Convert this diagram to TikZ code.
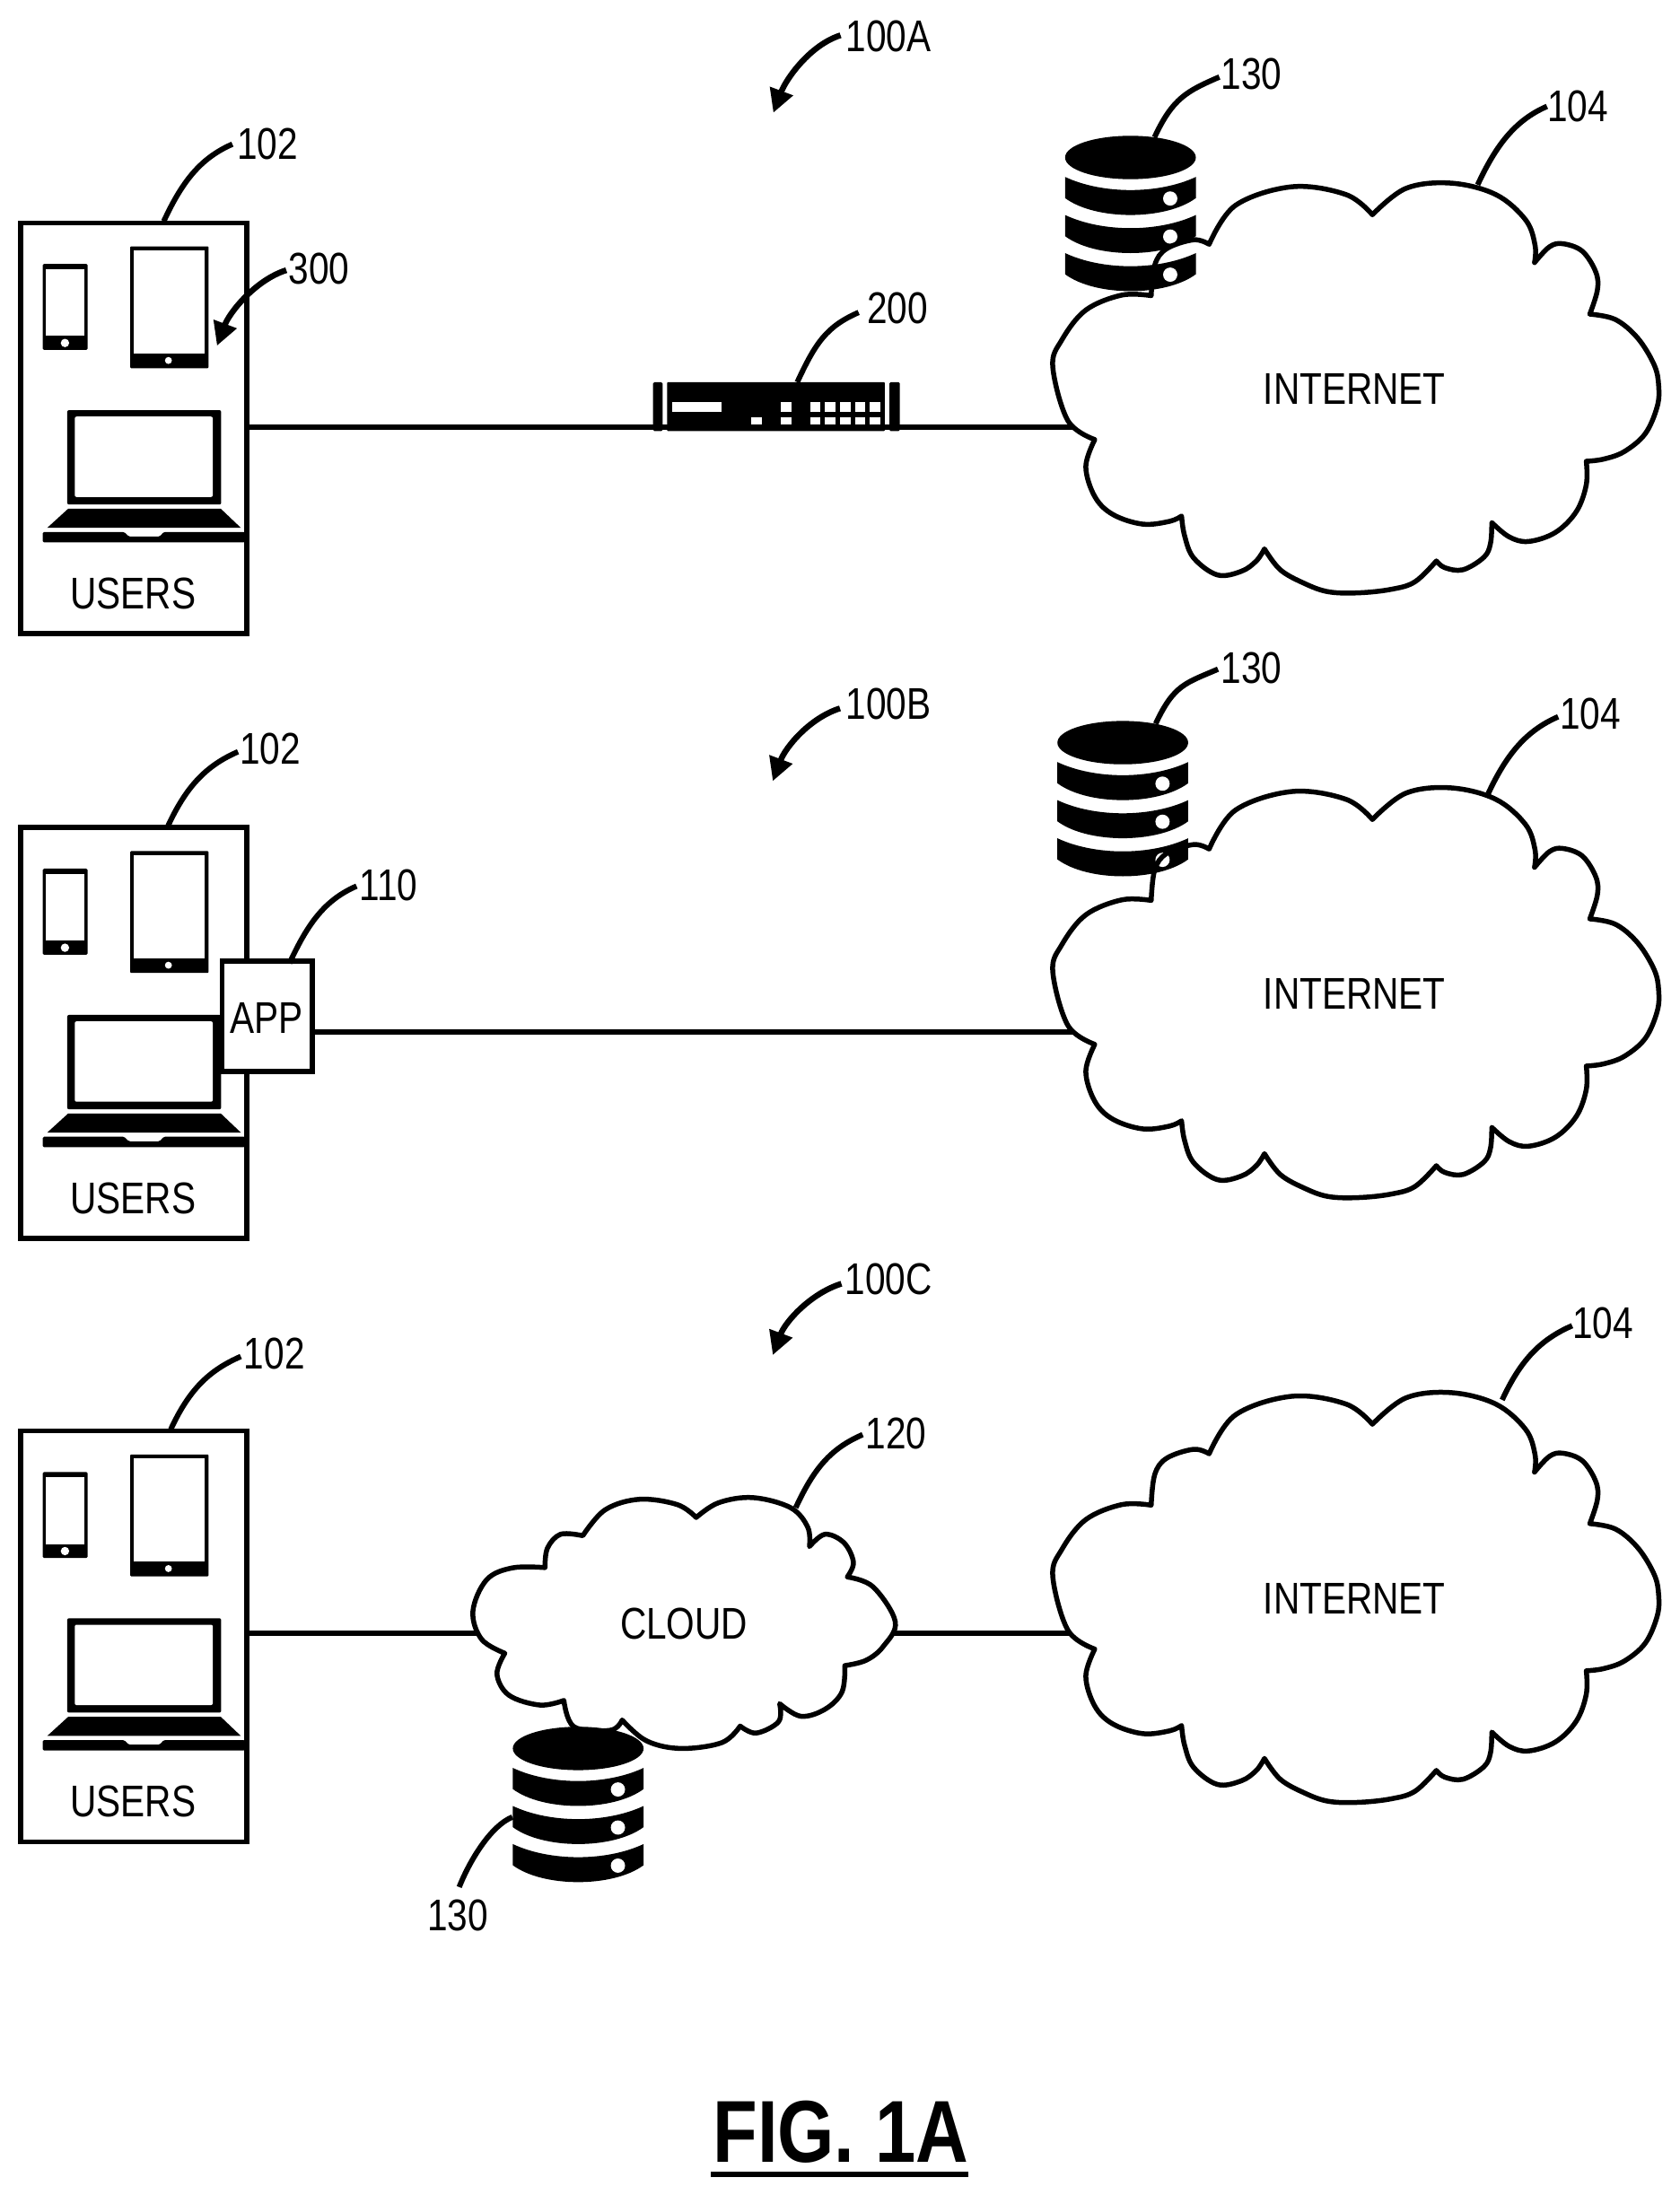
\documentclass[tikz,border=0pt]{standalone}
\usepackage{fontspec}
\usetikzlibrary{arrows.meta,calc}
\setmainfont{Liberation Sans}
\newfontfamily\labelfam[FakeStretch=0.82]{Liberation Sans}
\newfontfamily\figfam[FakeStretch=0.83]{Liberation Sans}
\tikzset{
  lab/.style={font={\labelfam\fontsize{49.5}{50}\selectfont},inner sep=0pt,outer sep=0pt},
  figlab/.style={font={\figfam\bfseries\fontsize{98}{100}\selectfont},inner sep=0pt,outer sep=0pt},
  userbox/.style={draw=black,fill=white,line width=5.7pt,minimum width=252pt,minimum height=458pt,inner sep=0pt,outer sep=0pt},
  appbox/.style={draw=black,fill=white,line width=5.7pt,minimum width=100.8pt,minimum height=123.2pt,inner sep=0pt,outer sep=0pt},
  wire/.style={draw=black,line width=6pt},
  leader/.style={draw=black,line width=6pt},
  refarrow/.style={draw=black,line width=6.5pt,-{Stealth[inset=0pt,length=26pt,width=26pt]}},
  cloudline/.style={draw=black,line width=5.5pt,line join=round},
  routerbox/.style={minimum width=270pt,minimum height=55pt,inner sep=0pt,outer sep=0pt},
}
% curved reference line between two named points
\newcommand{\leadcurve}[2]{\draw[leader] (#1) .. controls +(13,-28) and +(-23,10) .. (#2);}
\newcommand{\refcurve}[2]{\draw[refarrow] (#1) .. controls +(-22,7) and +(9,-24) .. (#2);}
% phone, tablet, laptop of a user box (frame of panel A)
\newcommand{\devices}{%
  \fill[black,rounded corners=1.5] (30.5,188.5) rectangle (62.6,250);
  \fill[white] (32.7,192.4) rectangle (60.3,240);
  \fill[white] (46.4,245) circle (3);
  \fill[black,rounded corners=1] (93,176) rectangle (149,263);
  \fill[white] (95.5,179) rectangle (146.4,252.5);
  \fill[white] (120.3,257.5) circle (2.5);
  \fill[black,rounded corners=2] (48,293) rectangle (158,360.4);
  \fill[white,rounded corners=2] (53.4,297.6) rectangle (152,355);
  \fill[black] (48.7,363.4) -- (157.7,363.4) -- (172,377) -- (33.8,377) -- cycle;
  \fill[black,rounded corners=1.5] (30.5,380) -- (88.7,380) -- (92,383.3) -- (114,383.3) -- (117,380) -- (175,380) -- (175,387.5) -- (30.5,387.5) -- cycle;
}
% database icon, origin at top middle
\newcommand{\dbband}[1]{%
  \fill[black] (-46.7,29.4+#1) .. controls (-20,41.9+#1) and (20,41.9+#1) .. (46.7,29.4+#1)
    -- (46.7,44.5+#1) .. controls (25,60.6+#1) and (-25,60.6+#1) .. (-46.7,44.5+#1) -- cycle;
  \fill[white] (28.4,44.8+#1) circle (5.1);
}
\newcommand{\dbicon}{%
  \fill[black] (0,15.5) ellipse (46.7 and 15.5);
  \dbband{0}\dbband{27.2}\dbband{54.4}
}
% INTERNET cloud (frame of panel A)
\def\bigcloud{
  plot[smooth,tension=.6] coordinates {(863.7,174.5) (882.5,146.7) (923,133.4) (961.5,139) (980.3,153.4)}
  -- plot[smooth,tension=.6] coordinates {(980.3,153.4) (1004.2,134.6) (1036.3,130.8) (1068.3,138.9) (1089.7,157) (1096.5,175.2) (1096.1,187.6)}
  -- plot[smooth,tension=.6] coordinates {(1096.1,187.6) (1106.8,176.3) (1116.4,174.1) (1130.3,179.5) (1139.9,194.4) (1141,207.3) (1135.6,224.4)}
  -- plot[smooth,tension=.6] coordinates {(1135.6,224.4) (1153.8,228.2) (1169.8,241.5) (1181.6,260.7) (1184.8,275.6) (1183.7,290.6) (1175.2,309.8) (1160.2,322.6) (1145.3,328) (1133.1,329.5)}
  -- plot[smooth,tension=.6] coordinates {(1133.1,329.5) (1133.1,346.2) (1126,365.4) (1111.1,380.3) (1091.8,386.8) (1078,383.5) (1065.6,373.3)}
  -- plot[smooth,tension=.6] coordinates {(1065.6,373.3) (1064.7,388) (1060,398) (1045,407) (1032,405.5) (1026,400.7)}
  -- plot[smooth,tension=.6] coordinates {(1026,400.7) (1010.7,415.6) (993.6,421) (970.1,423.5) (948.7,422.7) (931.6,416.7) (914.5,407) (903.2,392.1)}
  -- plot[smooth,tension=.6] coordinates {(903.2,392.1) (897.4,400.7) (886.7,408.1) (869.6,410.7) (852.6,398.5) (846.1,382.5) (844,368.6)}
  -- plot[smooth,tension=.6] coordinates {(844,368.6) (835.5,372.4) (816.2,374.4) (794.9,367.5) (782,354.7) (775.6,333.3) (782,314)}
  -- plot[smooth,tension=.6] coordinates {(782,314) (762.8,300.5) (752,262) (758.5,242.8) (775.6,221.5) (801.3,210.8) (822.3,211.2)}
  -- plot[smooth,tension=.6] coordinates {(822.3,211.2) (824.8,189.4) (833.3,177.7) (852.6,171.3) (863.7,174.5)}
  -- cycle
}
% small CLOUD
\def\smallcloud{
  plot[smooth,tension=.6] coordinates {(389.3,1119.8) (391,1106) (400.4,1096) (416.3,1097)}
  -- plot[smooth,tension=.6] coordinates {(416.3,1097) (432.3,1078.5) (456.8,1071) (483.8,1074.8) (497.3,1084)}
  -- plot[smooth,tension=.6] coordinates {(497.3,1084) (513.2,1073.5) (537.7,1069.8) (564.7,1077) (577,1091) (578.2,1104.8)}
  -- plot[smooth,tension=.6] coordinates {(578.2,1104.8) (589.3,1096) (602.8,1102) (609.6,1116) (605.2,1126.5)}
  -- plot[smooth,tension=.6] coordinates {(605.2,1126.5) (623.6,1133.5) (639.5,1158.5) (631,1176) (618.7,1186) (603.5,1189.8)}
  -- plot[smooth,tension=.6] coordinates {(603.5,1189.8) (601.5,1208.5) (589.3,1221) (572,1226) (556.9,1217)}
  -- plot[smooth,tension=.6] coordinates {(556.9,1217) (556.2,1229.8) (540.2,1238) (528.7,1233)}
  -- plot[smooth,tension=.6] coordinates {(528.7,1233) (515.7,1244.8) (486.2,1249) (461.7,1243.5) (444.4,1228.7)}
  -- plot[smooth,tension=.6] coordinates {(444.4,1228.7) (436,1236) (410,1233.5) (402.8,1214.7)}
  -- plot[smooth,tension=.6] coordinates {(402.8,1214.7) (385.7,1218) (363.6,1211) (355,1196) (360.6,1181)}
  -- plot[smooth,tension=.6] coordinates {(360.6,1181) (344,1171) (337.8,1151) (347.6,1128.5) (366,1120) (389.3,1119.8)}
  -- cycle
}
\begin{document}
\begin{tikzpicture}[x=1.56pt,y=-1.56pt]
\useasboundingbox (0,0) rectangle (1200,1568);
\fill[white] (0,0) rectangle (1200,1568);

% ---------- named anchors for connectors
\coordinate (lineAend) at (790,305);
\coordinate (lineBend) at (790,737);
\coordinate (lineCmid) at (350,1167);
\coordinate (lineCmidR) at (630,1167);
\coordinate (lineCend) at (790,1167);

% ---------- user boxes
\node[userbox] (usersA) at (95.5,306) {};
\node[userbox] (usersB) at (95.5,738) {};
\node[userbox] (usersC) at (95.5,1169) {};
\devices
\begin{scope}[shift={(0,432)}]\devices\end{scope}
\begin{scope}[shift={(0,863)}]\devices\end{scope}
\node[lab] (usersAt) at (95,424) {USERS};
\node[lab] (usersBt) at (95,856) {USERS};
\node[lab] (usersCt) at (95,1287) {USERS};

% ---------- wires
\draw[wire] (usersA.east |- lineAend) -- (lineAend);
\node[appbox] (appB) at (190.9,725.9) {};
\node[lab] (appBt) at (190.6,727) {APP};
\draw[wire] (appB.east |- lineBend) -- (lineBend);
\draw[wire] (usersC.east |- lineCmid) -- (lineCmid);
\draw[wire] (lineCmidR) -- (lineCend);

% ---------- router
\node[routerbox] (router) at (554.7,290.5) {};
\begin{scope}
  \fill[black,rounded corners=1.5] (466.5,273) rectangle (473.3,308);
  \fill[black,rounded corners=1] (476.5,273) rectangle (632,308);
  \fill[black,rounded corners=1.5] (635.3,273) rectangle (642.8,308);
  \fill[white] (480,287) rectangle (515.4,294);
  \foreach \xa in {557.7,578.6,589.3,600,610.7,621.3}{
    \fill[white] (\xa,287) rectangle ++(7.5,7);
    \fill[white] (\xa,298) rectangle ++(7.5,5.2);
  }
  \fill[white] (536.5,298) rectangle ++(7.5,5.2);
\end{scope}

% ---------- clouds and databases
\fill[white] \bigcloud;
\begin{scope}[shift={(807.5,97)}]\dbicon\end{scope}
\draw[cloudline] \bigcloud;
\node[lab] (inetA) at (967.5,278) {INTERNET};

\begin{scope}[shift={(0,432)}]
  \fill[white] \bigcloud;
  \begin{scope}[shift={(802,83)}]\dbicon\end{scope}
  \draw[cloudline] \bigcloud;
\end{scope}
\node[lab] (inetB) at (967.5,710) {INTERNET};

\begin{scope}[shift={(0,864)}]
  \draw[cloudline,fill=white] \bigcloud;
\end{scope}
\node[lab] (inetC) at (967.5,1142) {INTERNET};

\draw[cloudline,fill=white] \smallcloud;
\node[lab] (cloudC) at (488.5,1160) {CLOUD};
\begin{scope}[shift={(413,1233.5)}]\dbicon\end{scope}

% ---------- reference labels
\node[lab] (r102a) at (191,103) {102};
\node[lab] (r102b) at (193,535) {102};
\node[lab] (r102c) at (196,967) {102};
\node[lab] (r300) at (228,192) {300};
\node[lab] (r200) at (641,220) {200};
\node[lab] (r110) at (277.7,632.5) {110};
\node[lab] (r130a) at (894,53) {130};
\node[lab] (r130b) at (894,477) {130};
\node[lab] (r130c) at (327,1368) {130};
\node[lab] (r104a) at (1127,76) {104};
\node[lab] (r104b) at (1136,510) {104};
\node[lab] (r104c) at (1145,945) {104};
\node[lab] (r120) at (640,1024) {120};
\node[lab] (r100a) at (634.6,26) {100A};
\node[lab] (r100b) at (634.6,503) {100B};
\node[lab] (r100c) at (634.6,914) {100C};

% ---------- leader lines
\coordinate (s102a) at (117,158); \coordinate (e102a) at (166,103);
\coordinate (s102b) at (120,590); \coordinate (e102b) at (170,537);
\coordinate (s102c) at (122,1021); \coordinate (e102c) at (172,969);
\coordinate (s200) at (569.5,273); \coordinate (e200) at (613.3,223.2);
\coordinate (s110) at (206.8,688); \coordinate (e110) at (254.7,633);
\coordinate (s130a) at (824.7,98); \coordinate (e130a) at (871,55);
\coordinate (s130b) at (825.5,517); \coordinate (e130b) at (870,478);
\coordinate (s104a) at (1055.5,132); \coordinate (e104a) at (1105,76);
\coordinate (s104b) at (1063,567); \coordinate (e104b) at (1113,512);
\coordinate (s104c) at (1073,1000); \coordinate (e104c) at (1123,947);
\coordinate (s120) at (568.4,1077); \coordinate (e120) at (616.2,1024.8);
\coordinate (s130c) at (366,1298); \coordinate (e130c) at (328,1348);
\leadcurve{s102a}{e102a}
\leadcurve{s102b}{e102b}
\leadcurve{s102c}{e102c}
\leadcurve{s200}{e200}
\leadcurve{s110}{e110}
\leadcurve{s130a}{e130a}
\leadcurve{s130b}{e130b}
\leadcurve{s104a}{e104a}
\leadcurve{s104b}{e104b}
\leadcurve{s104c}{e104c}
\leadcurve{s120}{e120}
\draw[leader] (s130c) .. controls +(-15,6) and +(8,-20) .. (e130c);

% ---------- reference arrows
\coordinate (s300) at (204.5,193); \coordinate (t300) at (155,247);
\coordinate (s100a) at (600.4,25.2); \coordinate (t100a) at (552.4,80.6);
\coordinate (s100b) at (600,506); \coordinate (t100b) at (552,558);
\coordinate (s100c) at (601,917); \coordinate (t100c) at (552,968);
\refcurve{s300}{t300}
\refcurve{s100a}{t100a}
\refcurve{s100b}{t100b}
\refcurve{s100c}{t100c}

% ---------- title
\node[figlab] (fig) at (600.5,1523) {FIG. 1A};
\draw[line width=6pt] (508,1553) -- (692,1553);
\end{tikzpicture}
\end{document}
